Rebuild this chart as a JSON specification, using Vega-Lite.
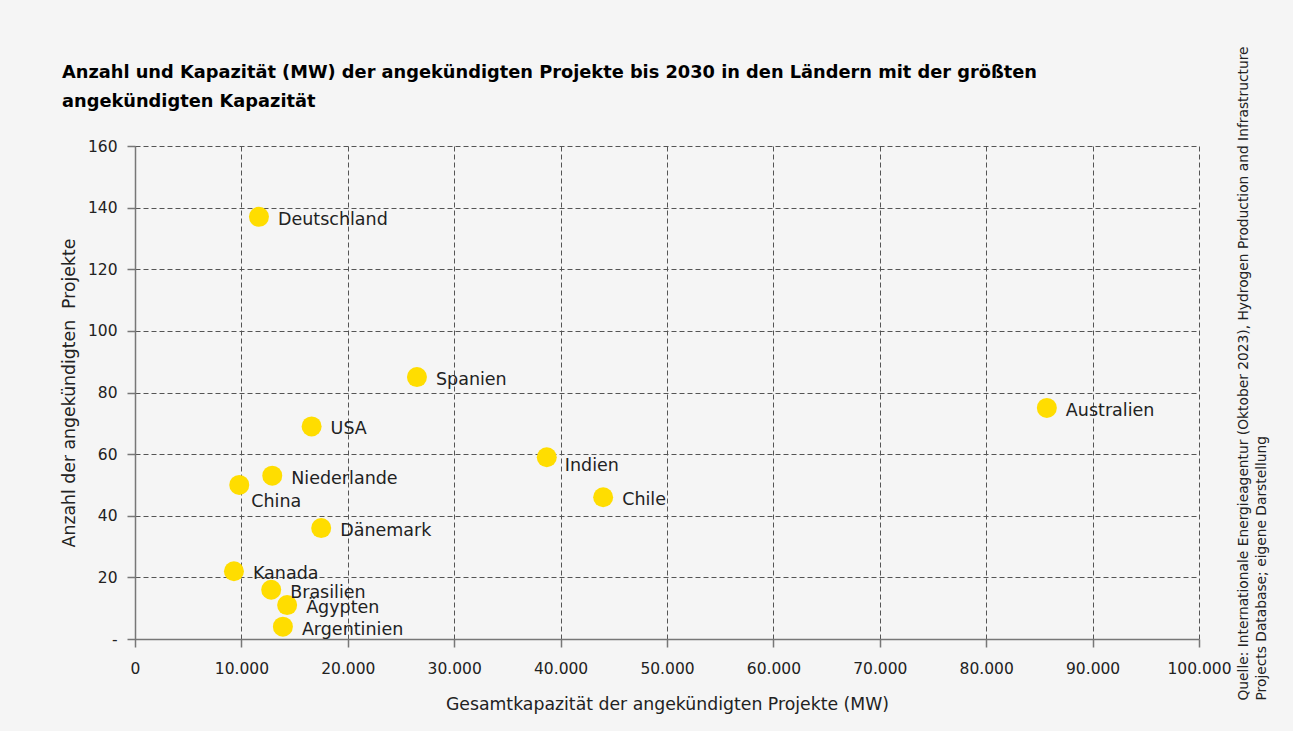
{
  "$schema": "https://vega.github.io/schema/vega-lite/v6.json",
  "width": 1064,
  "height": 493,
  "autosize": {"type": "none"},
  "padding": {"left": 135, "top": 146, "right": 94, "bottom": 92},
  "background": "#f5f5f5",
  "config": {
    "locale": {"number": {"decimal": ",", "thousands": ".", "grouping": [3], "currency": ["", " €"]}},
    "font": "DejaVu Sans",
    "view": {"stroke": null},
    "axis": {
      "grid": true,
      "gridDash": [5, 3],
      "gridColor": "#555555",
      "gridWidth": 1,
      "domainColor": "#777777",
      "domainWidth": 1.5,
      "tickColor": "#777777",
      "tickWidth": 1.5,
      "tickSize": 8,
      "labelFontSize": 15.5,
      "labelColor": "#222222",
      "labelFlush": false,
      "titleFontSize": 17.3,
      "titleFontWeight": "normal",
      "titleColor": "#222222"
    }
  },
  "title": {
    "text": ["Anzahl und Kapazität (MW) der angekündigten Projekte bis 2030 in den Ländern mit der größten", "angekündigten Kapazität"],
    "anchor": "start",
    "frame": "group",
    "dx": -73,
    "dy": 95,
    "fontSize": 17.8,
    "fontWeight": "bold",
    "color": "#000000",
    "lineHeight": 29,
    "offset": 30
  },
  "data": {
    "values": [
      {"land": "Deutschland", "kapazitaet": 11650, "anzahl": 137},
      {"land": "Spanien", "kapazitaet": 26500, "anzahl": 85},
      {"land": "USA", "kapazitaet": 16600, "anzahl": 69},
      {"land": "Australien", "kapazitaet": 85700, "anzahl": 75},
      {"land": "Indien", "kapazitaet": 38700, "anzahl": 59},
      {"land": "Chile", "kapazitaet": 44000, "anzahl": 46},
      {"land": "Niederlande", "kapazitaet": 12900, "anzahl": 53},
      {"land": "China", "kapazitaet": 9800, "anzahl": 50},
      {"land": "Dänemark", "kapazitaet": 17500, "anzahl": 36},
      {"land": "Kanada", "kapazitaet": 9300, "anzahl": 22},
      {"land": "Brasilien", "kapazitaet": 12800, "anzahl": 16},
      {"land": "Ägypten", "kapazitaet": 14300, "anzahl": 11},
      {"land": "Argentinien", "kapazitaet": 13900, "anzahl": 4}
    ]
  },
  "encoding": {
    "x": {
      "field": "kapazitaet",
      "type": "quantitative",
      "scale": {"domain": [0, 100000], "nice": false},
      "axis": {
        "title": "Gesamtkapazität der angekündigten Projekte (MW)",
        "values": [0, 10000, 20000, 30000, 40000, 50000, 60000, 70000, 80000, 90000, 100000],
        "format": ",.0f",
        "labelPadding": 14,
        "titlePadding": 19
      }
    },
    "y": {
      "field": "anzahl",
      "type": "quantitative",
      "scale": {"domain": [0, 160], "nice": false},
      "axis": {
        "title": "Anzahl der angekündigten\u00a0 Projekte",
        "values": [0, 20, 40, 60, 80, 100, 120, 140, 160],
        "labelExpr": "datum.value === 0 ? '-' : datum.label",
        "labelPadding": 10,
        "titlePadding": 9
      }
    }
  },
  "layer": [
    {
      "mark": {"type": "circle", "size": 400, "color": "#ffdd00", "opacity": 1}
    },
    {
      "transform": [{"filter": "datum.land !== 'China' && datum.land !== 'Indien'"}],
      "mark": {"type": "text", "align": "left", "baseline": "middle", "dx": 19, "dy": 3, "fontSize": 17.5, "color": "#222222"},
      "encoding": {
        "text": {"field": "land"},
        "y": {
          "field": "anzahl",
          "type": "quantitative",
          "axis": {
            "orient": "right",
            "labels": false,
            "ticks": false,
            "domain": false,
            "grid": false,
            "title": ["Quelle: Internationale Energieagentur (Oktober 2023), Hydrogen Production and Infrastructure", "Projects Database; eigene Darstellung"],
            "titleAngle": 270,
            "titleAlign": "left",
            "titleBaseline": "top",
            "titleX": 37,
            "titleY": 554,
            "titleFontSize": 13.8,
            "titleLineHeight": 18
          }
        }
      }
    },
    {
      "transform": [{"filter": "datum.land === 'China'"}],
      "mark": {"type": "text", "align": "left", "baseline": "middle", "dx": 12, "dy": 17, "fontSize": 17.5, "color": "#222222"},
      "encoding": {
        "text": {"field": "land"},
        "y": {"field": "anzahl", "type": "quantitative", "axis": null}
      }
    },
    {
      "transform": [{"filter": "datum.land === 'Indien'"}],
      "mark": {"type": "text", "align": "left", "baseline": "middle", "dx": 18, "dy": 9, "fontSize": 17.5, "color": "#222222"},
      "encoding": {
        "text": {"field": "land"},
        "y": {"field": "anzahl", "type": "quantitative", "axis": null}
      }
    }
  ],
  "resolve": {"axis": {"y": "independent"}}
}
